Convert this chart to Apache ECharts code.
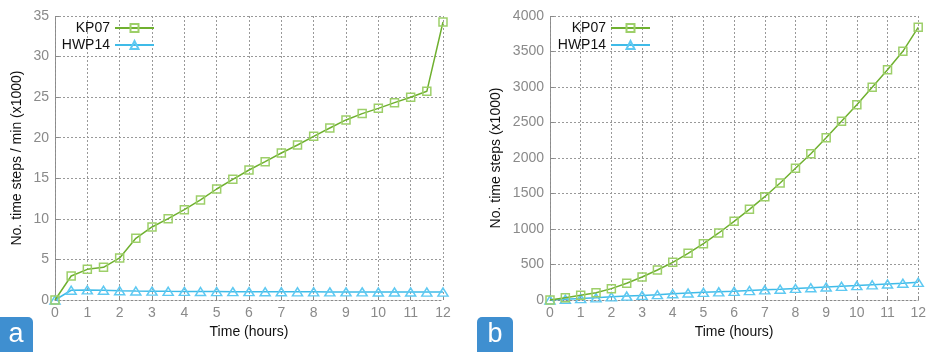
<!DOCTYPE html>
<html>
<head>
<meta charset="utf-8">
<script src="https://cdn.jsdelivr.net/npm/echarts@6/dist/echarts.min.js"></script>
<style>html,body{margin:0;padding:0;background:#fff}#c{width:929px;height:352px}</style>
</head>
<body>
<div id="c"></div>
<script>
const hours = [0,0.5,1,1.5,2,2.5,3,3.5,4,4.5,5,5.5,6,6.5,7,7.5,8,8.5,9,9.5,10,10.5,11,11.5,12];
const xTicks = [0,1,2,3,4,5,6,7,8,9,10,11,12];
// panel a: time steps per minute (x1000)
const rateKP07 = [0,2.96,3.78,4.03,5.18,7.6,9.0,10.02,11.13,12.33,13.68,14.87,16.02,17.05,18.12,19.1,20.17,21.2,22.19,22.97,23.62,24.32,24.98,25.72,34.26];
const rateHWP14 = [0,1.2,1.24,1.2,1.14,1.11,1.09,1.07,1.06,1.05,1.04,1.03,1.03,1.02,1.02,1.01,1.01,1.0,1.0,1.0,0.99,0.99,0.99,0.98,0.98];
// panel b: cumulative time steps (x1000)
const totalKP07 = [0,33,66,103,160,235,324,423,531,657,793,944,1108,1277,1455,1648,1855,2061,2286,2517,2751,2995,3244,3503,3840];
const totalHWP14 = [0,10,20,30,45,55,65,75,88,98,108,115,122,133,143,152,163,172,183,193,203,214,225,236,249];
const seriesNames = ['KP07','HWP14'];
const panelLabels = ['a','b'];

const pair = (xs, ys) => xs.map((x, i) => [x, ys[i]]);
const gray = '#8a8a8a';
const font = 'Liberation Sans, Arial, sans-serif';
const greenLine = '#6fb02f', greenMark = '#9dcf69';
const blueLine = '#3fbbe8', blueMark = '#5ec9f2';

function xAxis(gi) {
  return {
    type: 'value', gridIndex: gi, min: 0, max: 12, interval: 1,
    name: 'Time (hours)', nameLocation: 'middle', nameGap: 23,
    nameTextStyle: {color: '#111', fontSize: 14, fontFamily: font},
    axisLine: {show: true, lineStyle: {color: gray, type: [2,2], width: 1}},
    axisTick: {show: true, inside: true, length: 4, lineStyle: {color: gray}},
    axisLabel: {color: gray, fontSize: 14, fontFamily: font, margin: 6, formatter: v => String(v)},
    splitLine: {show: true, lineStyle: {color: '#999', type: [2,2], width: 1}}
  };
}
function yAxis(gi, max, interval, name, gap) {
  return {
    type: 'value', gridIndex: gi, min: 0, max: max, interval: interval,
    name: name, nameLocation: 'middle', nameGap: gap, nameRotate: 90,
    nameTextStyle: {color: '#111', fontSize: 14, fontFamily: font},
    axisLine: {show: true, lineStyle: {color: gray, type: [2,2], width: 1}},
    axisTick: {show: true, inside: true, length: 4, lineStyle: {color: gray}},
    axisLabel: {color: gray, fontSize: 14, fontFamily: font, margin: 6, formatter: v => String(v)},
    splitLine: {show: true, lineStyle: {color: '#999', type: [2,2], width: 1}}
  };
}
function line(name, gi, data, isKP) {
  return {
    name: name, type: 'line', xAxisIndex: gi, yAxisIndex: gi, data: data,
    symbol: isKP ? 'rect' : 'triangle', symbolSize: isKP ? 8 : [10, 8],
    showAllSymbol: true, z: isKP ? 3 : 2,
    lineStyle: {color: isKP ? greenLine : blueLine, width: 1.5},
    itemStyle: {color: 'rgba(255,255,255,0)', borderColor: isKP ? greenMark : blueMark, borderWidth: 1.5},
    emphasis: {disabled: true}
  };
}
function legend(right, top, name) {
  return {
    right: right, top: top, orient: 'vertical', align: 'right',
    itemWidth: 39, itemHeight: 10, padding: 0, itemGap: 6,
    textStyle: {color: '#111', fontSize: 14, fontFamily: font},
    data: [name], selectedMode: false
  };
}

const chart = echarts.init(document.getElementById('c'));
chart.setOption({
  animation: false,
  grid: [
    {left: 55, right: 486, top: 16, bottom: 52},
    {left: 550, right: 7, top: 16, bottom: 52}
  ],
  xAxis: [xAxis(0), xAxis(1)],
  yAxis: [
    yAxis(0, 35, 5, 'No. time steps / min (x1000)', 31),
    yAxis(1, 4000, 500, 'No. time steps (x1000)', 47)
  ],
  legend: [
    legend(774, 21, seriesNames[0]), legend(774, 38, seriesNames[1]),
    legend(278, 21, seriesNames[0]), legend(278, 38, seriesNames[1])
  ],
  series: [
    line(seriesNames[0], 0, pair(hours, rateKP07), true),
    line(seriesNames[1], 0, pair(hours, rateHWP14), false),
    line(seriesNames[0], 1, pair(hours, totalKP07), true),
    line(seriesNames[1], 1, pair(hours, totalHWP14), false)
  ],
  graphic: [
    {type: 'rect', left: -6, top: 317, shape: {width: 39, height: 40, r: 5}, style: {fill: '#3f8fd0'}},
    {type: 'text', x: 16, y: 335, style: {text: panelLabels[0], fill: '#fff', font: '27px ' + font, align: 'center', verticalAlign: 'middle'}},
    {type: 'rect', left: 477, top: 317, shape: {width: 36, height: 40, r: 5}, style: {fill: '#3f8fd0'}},
    {type: 'text', x: 495, y: 335, style: {text: panelLabels[1], fill: '#fff', font: '27px ' + font, align: 'center', verticalAlign: 'middle'}}
  ]
});
</script>
</body>
</html>
